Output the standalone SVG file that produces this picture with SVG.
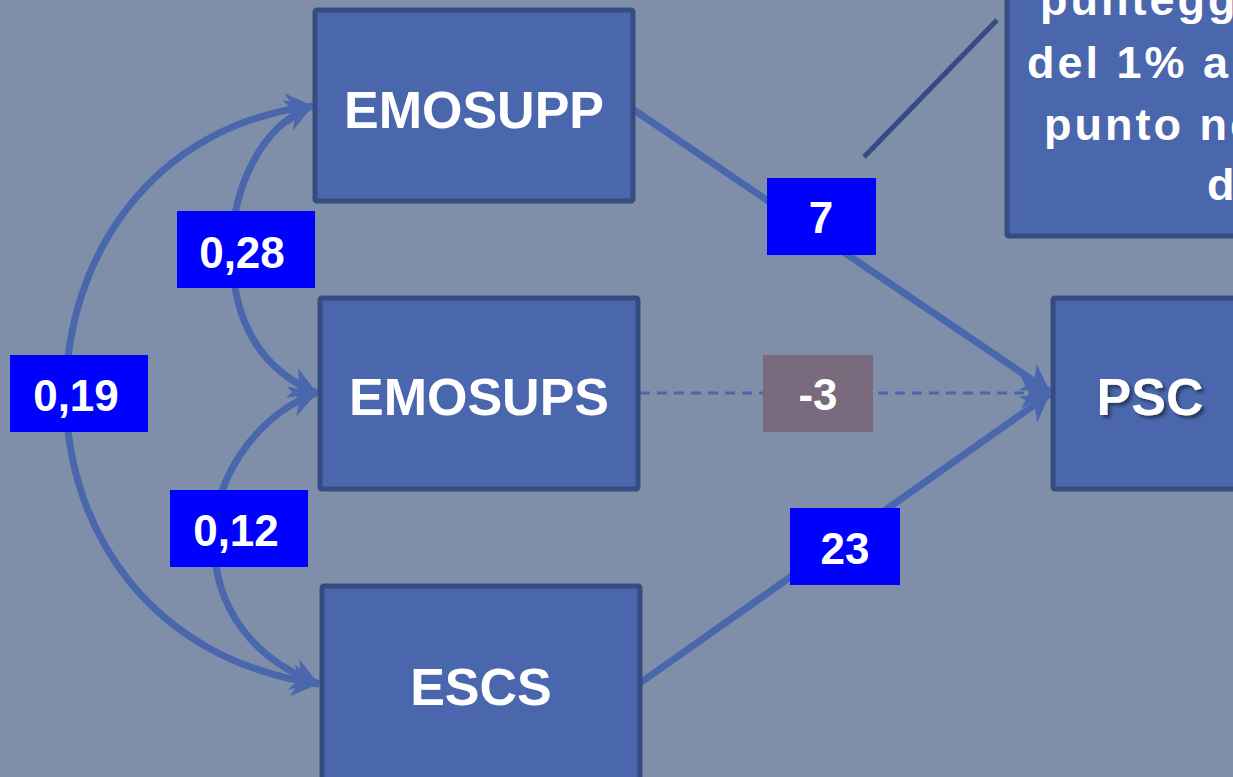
<svg xmlns="http://www.w3.org/2000/svg" width="1233" height="777" viewBox="0 0 1233 777">
<style>
.node{fill:#4A67AE;stroke:#344C80;stroke-width:5}
.nt{font-family:"Liberation Sans",Arial,sans-serif;font-weight:bold;font-size:52px;fill:#fff;text-anchor:middle}
.ct{font-family:"Liberation Sans",Arial,sans-serif;font-weight:bold;font-size:45px;fill:#fff;letter-spacing:3px}
.lb{fill:#0000FF}
.lt{font-family:"Liberation Sans",Arial,sans-serif;font-weight:bold;font-size:44px;fill:#fff;text-anchor:middle}
.edge{fill:none;stroke:#4A67AE;stroke-width:7}
</style>
<defs>
<marker id="ah" viewBox="-28 -17 30 34" refX="0" refY="0" markerWidth="30" markerHeight="34" markerUnits="userSpaceOnUse" orient="auto-start-reverse">
<path d="M0,0 L-27,-16 L-19,0 L-27,16 Z" fill="#4A67AE"/>
</marker>
<filter id="sh" x="-10%" y="-10%" width="130%" height="140%">
<feDropShadow dx="3" dy="3" stdDeviation="1.5" flood-color="#1a2540" flood-opacity="0.7"/>
</filter>
</defs>
<rect x="0" y="0" width="1233" height="777" fill="#7F8FA9"/>

<g id="callout">
<rect class="node" x="1007" y="-20" width="240" height="256" rx="2"/>
<text class="ct" x="1040" y="15">punteggi</text>
<text class="ct" x="1027" y="78">del 1% a</text>
<text class="ct" x="1044" y="140">punto ne</text>
<text class="ct" x="1207" y="200">d</text>
</g>

<g id="connectors">
<line x1="864" y1="157" x2="997" y2="20" stroke="#344C80" stroke-width="5"/>
<line class="edge" x1="634" y1="110" x2="1050" y2="392" marker-end="url(#ah)"/>
<line class="edge" x1="640" y1="683" x2="1050" y2="394" marker-end="url(#ah)"/>
<line x1="640" y1="393" x2="1048" y2="393" stroke="#4A67AE" stroke-width="3" stroke-dasharray="10,7" marker-end="url(#ah)"/>
<path class="edge" d="M313,106 C150,125 66,260 66,394 C66,530 150,660 319,684" marker-start="url(#ah)" marker-end="url(#ah)"/>
<path class="edge" d="M313,106 C260,125 232,190 232,250 C232,320 260,370 317,393" marker-start="url(#ah)" marker-end="url(#ah)"/>
<path class="edge" d="M317,393 C265,410 214,470 214,540 C214,610 255,660 319,684" marker-start="url(#ah)" marker-end="url(#ah)"/>
</g>

<g id="n-emosupp">
<rect class="node" x="315" y="10" width="318" height="191" rx="2"/>
<text class="nt" x="474" y="128">EMOSUPP</text>
</g>
<g id="n-emosups">
<rect class="node" x="320" y="298" width="318" height="191" rx="2"/>
<text class="nt" x="479" y="415">EMOSUPS</text>
</g>
<g id="n-escs">
<rect class="node" x="322" y="586" width="318" height="200" rx="2"/>
<text class="nt" x="481" y="705">ESCS</text>
</g>
<g id="n-psc">
<rect class="node" x="1053" y="298" width="200" height="191" rx="2"/>
<text class="nt" x="1150" y="415" filter="url(#sh)">PSC</text>
</g>

<g id="l-7"><rect class="lb" x="767" y="178" width="109" height="77"/><text class="lt" x="821" y="233">7</text></g>
<g id="l-028"><rect class="lb" x="177" y="211" width="138" height="77"/><text class="lt" x="242" y="268">0,28</text></g>
<g id="l-019"><rect class="lb" x="10" y="355" width="138" height="77"/><text class="lt" x="76" y="411">0,19</text></g>
<g id="l-012"><rect class="lb" x="170" y="490" width="138" height="77"/><text class="lt" x="236" y="546">0,12</text></g>
<g id="l-23"><rect class="lb" x="790" y="508" width="110" height="77"/><text class="lt" x="845" y="564">23</text></g>
<g id="l-m3"><rect x="763" y="355" width="110" height="77" fill="#7A6A7E"/><text class="lt" x="818" y="410">-3</text></g>
</svg>
